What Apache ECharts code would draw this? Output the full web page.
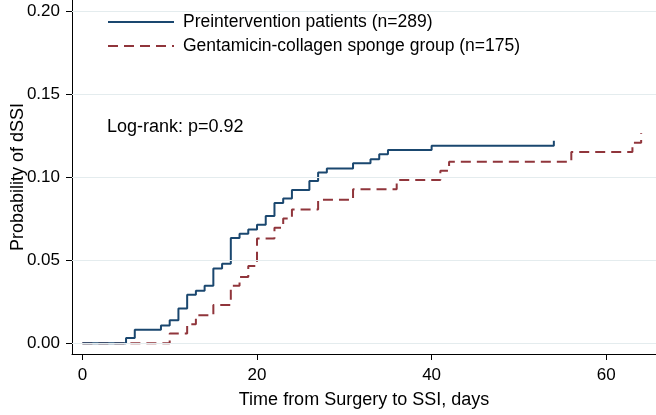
<!DOCTYPE html>
<html>
<head>
<meta charset="utf-8">
<script src="https://cdn.jsdelivr.net/npm/echarts@6/dist/echarts.min.js"></script>
<style>
  html, body { margin: 0; padding: 0; background: #fff; }
  #chart { width: 656px; height: 415px; }
</style>
</head>
<body>
<div id="chart"></div>
<script>
// step points (day, cumulative probability)
var preDays = [0, 5, 6, 9, 10, 11, 12, 13, 14, 15, 16, 17, 18, 19, 20, 21, 22, 23, 24, 26, 27, 28, 31, 33, 34, 35, 40, 54];
var preProb = [0, 0.0032, 0.0082, 0.0107, 0.0139, 0.0209, 0.0292, 0.0317, 0.0347, 0.0450, 0.0479, 0.0634, 0.0660, 0.0686, 0.0715, 0.0768, 0.0846, 0.0873, 0.0924, 0.0978, 0.1030, 0.1054, 0.1085, 0.1109, 0.1139, 0.1165, 0.1191, 0.1221];
var gentDays = [0, 10, 12, 13, 15, 17, 18, 19, 20, 22, 23, 24, 27, 31, 36, 41, 42, 56, 63, 64];
var gentProb = [0, 0.0058, 0.0115, 0.0169, 0.0230, 0.0347, 0.0400, 0.0465, 0.0632, 0.0696, 0.0752, 0.0807, 0.0865, 0.0928, 0.0984, 0.1040, 0.1095, 0.1153, 0.1209, 0.1267];

var xTicks = [0, 20, 40, 60];
var yTicks = [0, 0.05, 0.10, 0.15, 0.20];

var seriesNames = ['Preintervention patients (n=289)', 'Gentamicin-collagen sponge group (n=175)'];

function zip(a, b) {
  return a.map(function (v, i) { return [v, b[i]]; });
}

var font = 'Liberation Sans, Arial, sans-serif';
var myChart = echarts.init(document.getElementById('chart'));

myChart.setOption({
  animation: false,
  backgroundColor: '#fff',
  textStyle: { fontFamily: font },
  title: {
    text: 'Log-rank: p=0.92',
    left: 107,
    top: 118,
    padding: 0,
    textStyle: { fontSize: 18, fontWeight: 'normal', color: '#000', fontFamily: font }
  },
  legend: {
    data: seriesNames,
    orient: 'vertical',
    left: 107,
    top: 13,
    padding: 0,
    itemWidth: 66,
    itemHeight: 14,
    itemGap: 6,
    itemStyle: { opacity: 0 },
    textStyle: { fontSize: 17.5, color: '#000', fontFamily: font, padding: [0, 0, 0, 4] }
  },
  grid: { left: 72, right: 0, top: 0, bottom: 61, containLabel: false, outerBoundsMode: 'none' },
  xAxis: {
    type: 'value',
    min: -1.19,
    max: 65.7,
    name: 'Time from Surgery to SSI, days',
    nameLocation: 'middle',
    nameGap: 37,
    nameMoveOverlap: false,
    nameTextStyle: { fontSize: 18, color: '#000', fontFamily: font },
    axisLine: { show: true, onZero: false, lineStyle: { color: '#000', width: 1 } },
    axisTick: { show: true, length: 6, customValues: xTicks, lineStyle: { color: '#000' } },
    axisLabel: { customValues: xTicks, fontSize: 17, color: '#000', margin: 13 },
    splitLine: { show: false }
  },
  yAxis: {
    type: 'value',
    min: -0.0065,
    max: 0.207,
    name: 'Probability of dSSI',
    nameLocation: 'middle',
    nameGap: 45,
    nameRotate: 90,
    nameMoveOverlap: false,
    nameTextStyle: { fontSize: 18, color: '#000', fontFamily: font },
    axisLine: { show: true, onZero: false, lineStyle: { color: '#000', width: 1 } },
    axisTick: { show: true, length: 6, customValues: yTicks, lineStyle: { color: '#000' } },
    axisLabel: {
      customValues: yTicks,
      fontSize: 17,
      color: '#000',
      margin: 12,
      formatter: function (v) { return v.toFixed(2); }
    },
    splitLine: { show: false }
  },
  series: [
    {
      name: 'grid',
      type: 'line',
      data: [],
      z: 1,
      silent: true,
      markLine: {
        silent: true,
        symbol: 'none',
        label: { show: false },
        lineStyle: { color: '#e4ecee', width: 1.2, type: 'solid' },
        data: yTicks.map(function (v) { return { yAxis: v }; })
      }
    },
    {
      name: seriesNames[0],
      type: 'line',
      step: 'end',
      symbol: 'none',
      z: 3,
      data: zip(preDays, preProb),
      lineStyle: { color: '#1a476f', width: 2 },
      itemStyle: { color: '#1a476f' }
    },
    {
      name: seriesNames[1],
      type: 'line',
      step: 'end',
      symbol: 'none',
      z: 2,
      data: zip(gentDays, gentProb),
      lineStyle: { color: '#90353b', width: 2, type: [10, 6] },
      itemStyle: { color: '#90353b' }
    }
  ]
});
</script>
</body>
</html>
